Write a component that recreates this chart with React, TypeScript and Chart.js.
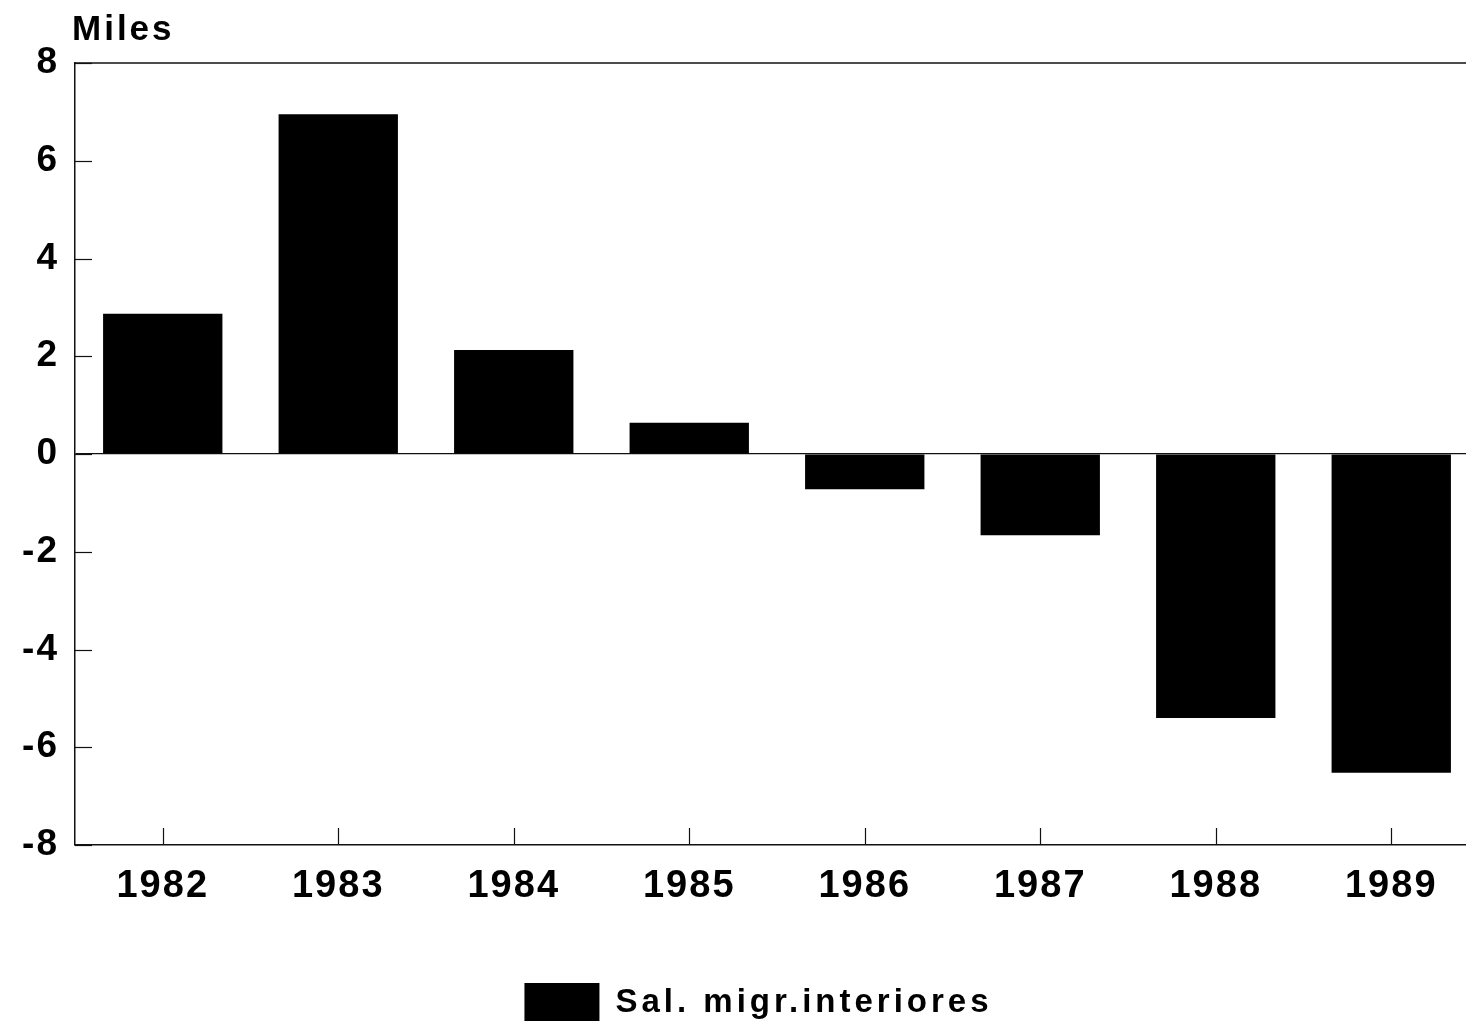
import React, { useEffect, useRef } from "react";
import { Chart, registerables } from "chart.js";

Chart.register(...registerables);

const years = ["1982", "1983", "1984", "1985", "1986", "1987", "1988", "1989"];
const salMigrInteriores = [2.87, 6.95, 2.13, 0.64, -0.72, -1.66, -5.4, -6.52];
const yTicks = [-8, -6, -4, -2, 0, 2, 4, 6, 8];
const seriesLabel = "Sal. migr.interiores";
const unitLabel = "Miles";

const FONT = "'Liberation Sans', Arial, Helvetica, sans-serif";

const decorPlugin = {
  id: "decor",
  beforeDraw(chart: any) {
    chart.ctx.letterSpacing = "2px";
  },
  afterDraw(chart: any) {
    const { ctx, chartArea, scales } = chart;
    const x = scales.x;
    const y = scales.y;
    ctx.save();
    ctx.strokeStyle = "#111";
    ctx.lineWidth = 1.5;
    // top border
    ctx.beginPath();
    ctx.moveTo(chartArea.left, chartArea.top);
    ctx.lineTo(chartArea.right, chartArea.top);
    ctx.stroke();
    // inward y ticks
    ctx.lineWidth = 1.2;
    y.ticks.forEach((t: any) => {
      const py = Math.round(y.getPixelForValue(t.value)) + 0.5;
      ctx.beginPath();
      ctx.moveTo(chartArea.left, py);
      ctx.lineTo(chartArea.left + 17, py);
      ctx.stroke();
    });
    // inward x ticks
    x.ticks.forEach((_t: any, i: number) => {
      const px = Math.round(x.getPixelForTick(i)) + 0.5;
      ctx.beginPath();
      ctx.moveTo(px, chartArea.bottom);
      ctx.lineTo(px, chartArea.bottom - 17);
      ctx.stroke();
    });
    // unit label
    ctx.fillStyle = "#000";
    ctx.font = `bold 35px ${FONT}`;
    ctx.letterSpacing = "3px";
    ctx.textAlign = "left";
    ctx.textBaseline = "alphabetic";
    ctx.fillText(unitLabel, 72, 40);
    // legend
    const ds = chart.data.datasets[0];
    ctx.font = `bold 33px ${FONT}`;
    ctx.letterSpacing = "4px";
    const boxW = 75;
    const boxH = 38;
    const gap = 16;
    const textW = ctx.measureText(ds.label).width;
    const total = boxW + gap + textW;
    const cx = (chart.width + 38) / 2;
    const lx = cx - total / 2;
    const ly = 983;
    ctx.fillStyle = ds.backgroundColor;
    ctx.fillRect(lx, ly, boxW, boxH);
    ctx.fillStyle = "#000";
    ctx.textBaseline = "middle";
    ctx.fillText(ds.label, lx + boxW + gap, ly + boxH / 2 + 1);
    ctx.restore();
    ctx.letterSpacing = "0px";
  },
};

export default function App() {
  const ref = useRef<HTMLCanvasElement | null>(null);

  useEffect(() => {
    document.body.style.margin = "0";
    document.body.style.overflow = "hidden";
    const canvas = ref.current!;
    const chart = new Chart(canvas, {
      type: "bar",
      data: {
        labels: years,
        datasets: [
          {
            label: seriesLabel,
            data: salMigrInteriores,
            backgroundColor: "#000",
            borderWidth: 0,
            categoryPercentage: 1,
            barPercentage: 0.68,
          },
        ],
      },
      options: {
        responsive: false,
        animation: false,
        devicePixelRatio: 1,
        layout: { padding: { left: 0, right: 0, top: 63, bottom: 0 } },
        plugins: {
          tooltip: { enabled: false },
          legend: { display: false },
        },
        scales: {
          x: {
            grid: { display: false, drawTicks: false },
            border: { display: true, color: "#111", width: 1.5 },
            ticks: {
              color: "#000",
              font: { family: FONT, size: 38, weight: "bold" },
              padding: 19,
              maxRotation: 0,
            },
            afterFit: (s: any) => {
              s.height = 186;
            },
          },
          y: {
            min: -8,
            max: 8,
            afterBuildTicks: (s: any) => {
              s.ticks = yTicks.map((v) => ({ value: v }));
            },
            grid: {
              drawTicks: false,
              color: (c: any) => (c.tick && c.tick.value === 0 ? "#111" : "rgba(0,0,0,0)"),
              lineWidth: 1.2,
            },
            border: { display: true, color: "#111", width: 1.5 },
            ticks: {
              color: "#000",
              font: { family: FONT, size: 37, weight: "bold" },
              padding: 16,
              callback: (v: any) => String(v),
            },
            afterFit: (s: any) => {
              s.width = 75;
            },
          },
        },
      },
      plugins: [decorPlugin],
    });
    return () => chart.destroy();
  }, []);

  return (
    <div style={{ position: "fixed", left: 0, top: 0, width: 1466, height: 1031, overflow: "hidden", background: "#fff" }}>
      <canvas ref={ref} width={1479} height={1031} style={{ display: "block" }} />
    </div>
  );
}
